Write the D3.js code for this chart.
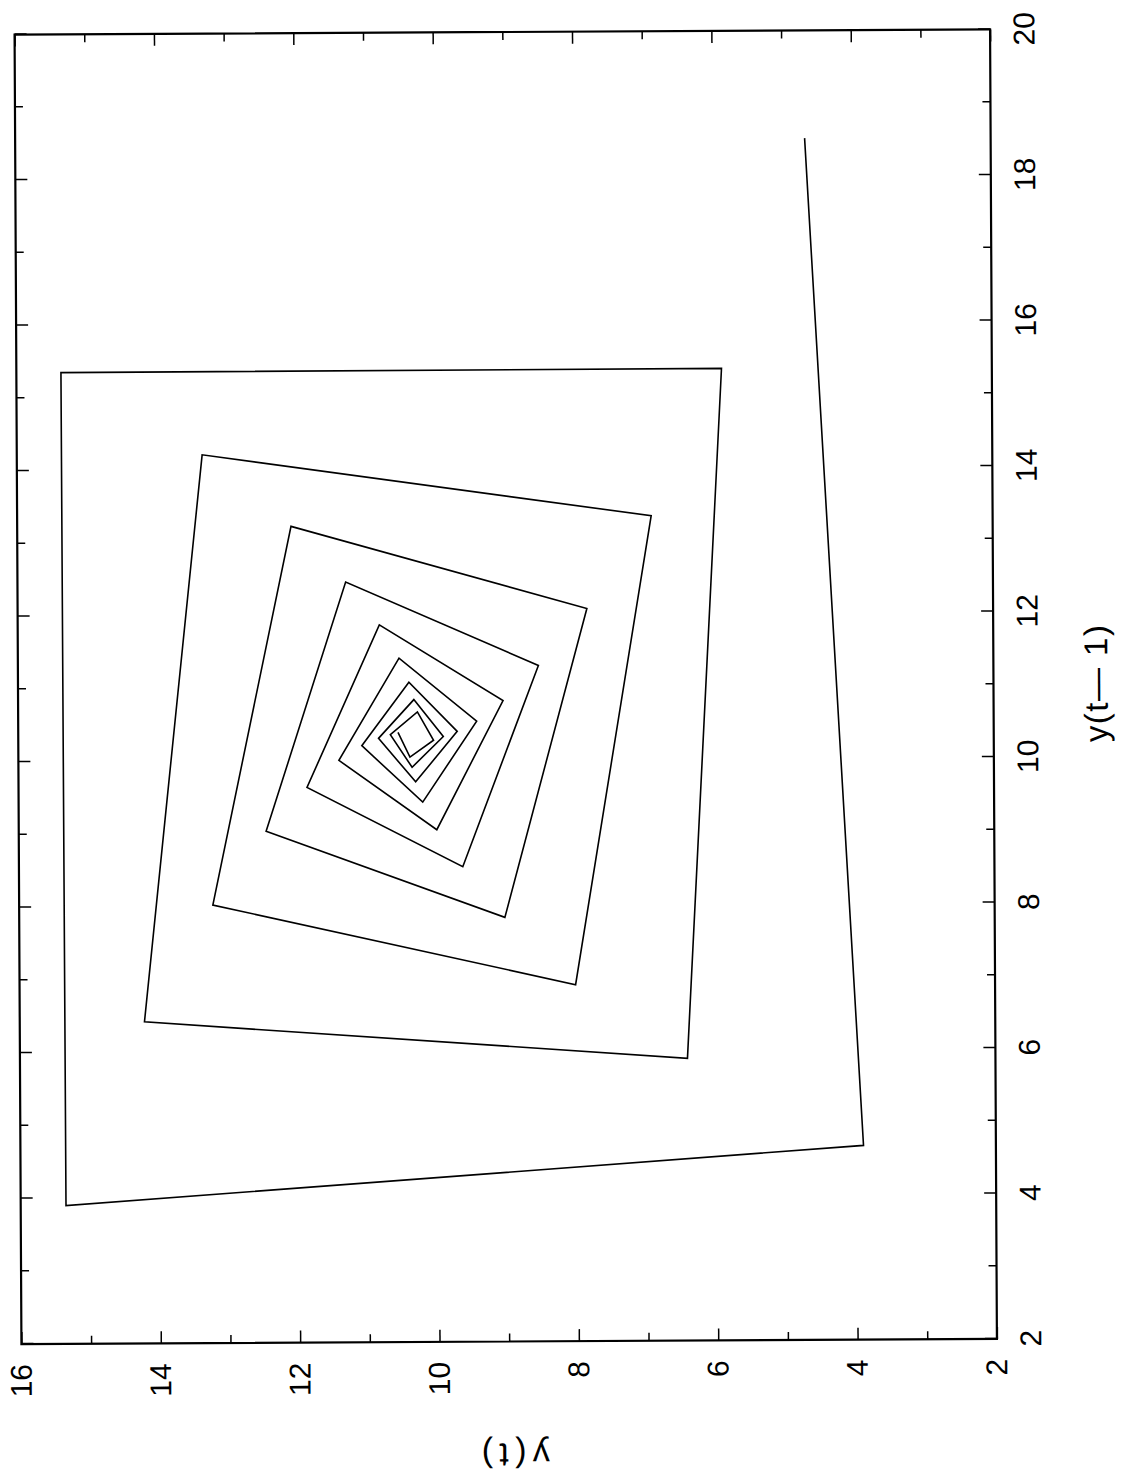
<!DOCTYPE html>
<html>
<head>
<meta charset="utf-8">
<script src="https://cdn.jsdelivr.net/npm/d3@7"></script>
<style>
  html, body { margin: 0; padding: 0; background: #fff; }
  svg { display: block; }
</style>
</head>
<body>
<svg id="chart" width="1124" height="1483"></svg>
<script>
// Time series y(t), t = 0..39; the plot shows the lag pairs (y(t-1), y(t)).
const series = [
  18.52, 4.67, 3.90, 15.35, 15.36, 5.88, 6.42, 14.21, 13.34, 6.90,
  8.02, 13.22, 12.07, 7.83, 9.03, 12.45, 11.29, 8.53, 9.63, 11.86,
  10.81, 9.04, 10.00, 11.40, 10.53, 9.42, 10.20, 11.07, 10.39, 9.70,
  10.30, 10.83, 10.32, 9.90, 10.35, 10.66, 10.27, 10.04, 10.38, 10.55
];
const xDomain = [2, 20];
const yDomain = [2, 16];
const xMajorTicks = [2, 4, 6, 8, 10, 12, 14, 16, 18, 20];
const xMinorTicks = [3, 5, 7, 9, 11, 13, 15, 17, 19];
const yMajorTicks = [2, 4, 6, 8, 10, 12, 14, 16];
const yMinorTicks = [3, 5, 7, 9, 11, 13, 15];
const xTitle = "y(t\u2014 1)";
const yTitle = "y(t)";

// Page placement: the plot is printed sideways (turned a quarter turn counter-clockwise).
const frameLeft = 18, frameRight = 993.5, frameTop = 32, frameBottom = 1341.5;
const W = frameBottom - frameTop;   // length of the y(t-1) axis
const H = frameRight - frameLeft;   // length of the y(t) axis
const FONT = "'Liberation Sans', Arial, sans-serif";

const svg = d3.select("#chart");
const page = svg.append("g")
  .attr("transform", `rotate(-0.3, ${(frameLeft + frameRight) / 2}, ${(frameTop + frameBottom) / 2})`);
const g = page.append("g")
  .attr("transform", `translate(${frameLeft},${frameBottom}) rotate(-90)`);

const x = d3.scaleLinear().domain(xDomain).range([0, W]);
const y = d3.scaleLinear().domain(yDomain).range([H, 0]);

function styleAxis(sel) {
  sel.select(".domain").remove();
  sel.selectAll(".tick line").attr("stroke", "#000").attr("stroke-width", 1.5);
  sel.attr("font-family", FONT).attr("font-size", 30);
  sel.selectAll(".tick text").attr("fill", "#000");
}

// Major ticks with labels (bottom and left), inward ticks on all four sides
g.append("g").attr("transform", `translate(0,${H})`)
  .call(d3.axisBottom(x).tickValues(xMajorTicks).tickSize(-12).tickPadding(23).tickFormat(d3.format("d")))
  .call(styleAxis);
g.append("g").attr("transform", `translate(0,${H})`)
  .call(d3.axisBottom(x).tickValues(xMinorTicks).tickSize(-8).tickFormat(""))
  .call(styleAxis);
g.append("g")
  .call(d3.axisTop(x).tickValues(xMajorTicks).tickSize(-12).tickFormat(""))
  .call(styleAxis);
g.append("g")
  .call(d3.axisTop(x).tickValues(xMinorTicks).tickSize(-8).tickFormat(""))
  .call(styleAxis);

g.append("g")
  .call(d3.axisLeft(y).tickValues(yMajorTicks).tickSize(-12).tickPadding(20).tickFormat(d3.format("d")))
  .call(styleAxis);
g.append("g")
  .call(d3.axisLeft(y).tickValues(yMinorTicks).tickSize(-8).tickFormat(""))
  .call(styleAxis);
g.append("g").attr("transform", `translate(${W},0)`)
  .call(d3.axisRight(y).tickValues(yMajorTicks).tickSize(-12).tickFormat(""))
  .call(styleAxis);
g.append("g").attr("transform", `translate(${W},0)`)
  .call(d3.axisRight(y).tickValues(yMinorTicks).tickSize(-8).tickFormat(""))
  .call(styleAxis);

// Plot frame
g.append("rect")
  .attr("x", 0).attr("y", 0).attr("width", W).attr("height", H)
  .attr("fill", "none").attr("stroke", "#000").attr("stroke-width", 2.2);

// Phase-plane trajectory
const lagPairs = d3.pairs(series); // [y(t-1), y(t)]
const line = d3.line().x(d => x(d[0])).y(d => y(d[1]));
g.append("path")
  .datum(lagPairs)
  .attr("d", line)
  .attr("fill", "none")
  .attr("stroke", "#000")
  .attr("stroke-width", 1.6)
  .attr("stroke-linejoin", "miter");

// Axis titles
g.append("text")
  .attr("x", W / 2).attr("y", H + 114)
  .attr("text-anchor", "middle")
  .attr("font-family", FONT).attr("font-size", 33)
  .attr("textLength", 117).attr("lengthAdjust", "spacing")
  .text(xTitle);

g.append("text")
  .attr("transform", `translate(-102,${H / 2 + 6}) rotate(-90)`)
  .attr("text-anchor", "middle")
  .attr("font-family", FONT).attr("font-size", 34)
  .attr("textLength", 68).attr("lengthAdjust", "spacing")
  .text(yTitle);
</script>
</body>
</html>
